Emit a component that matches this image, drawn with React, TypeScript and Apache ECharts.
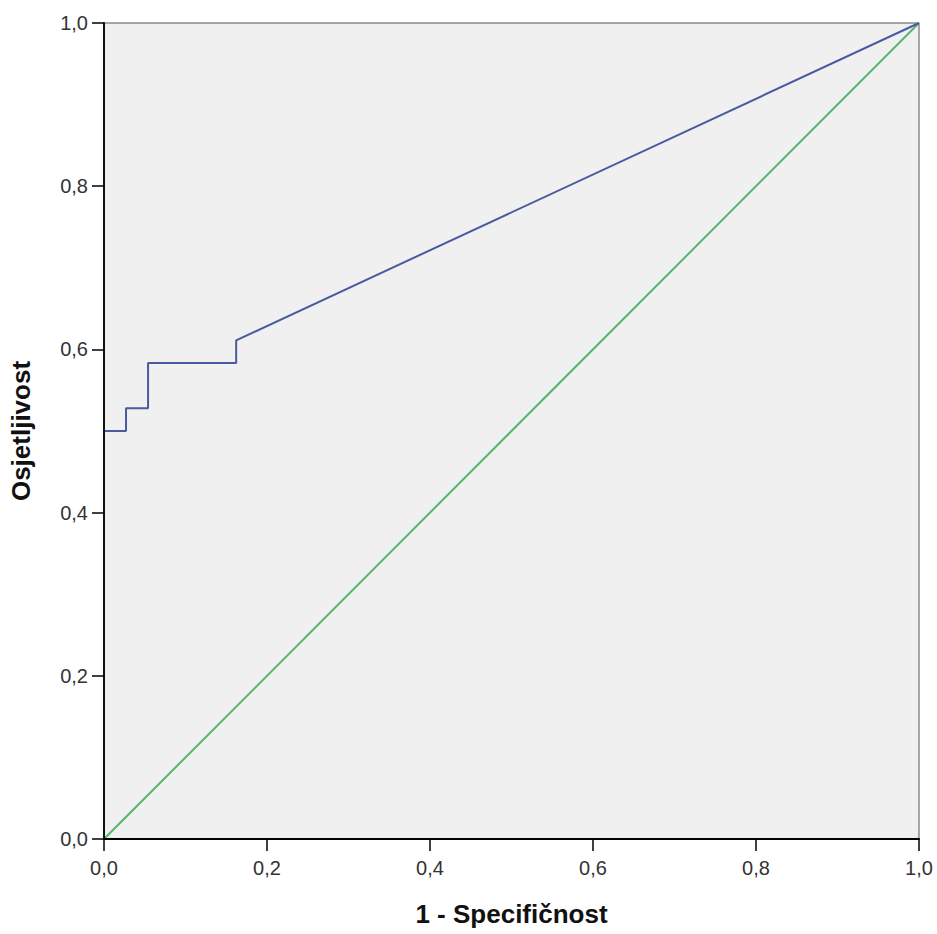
import React, { useEffect, useRef } from "react";
import * as echarts from "echarts";

const rocX = [0, 0, 1 / 37, 1 / 37, 2 / 37, 2 / 37, 6 / 37, 6 / 37, 1];
const rocY = [0, 18 / 36, 18 / 36, 19 / 36, 19 / 36, 21 / 36, 21 / 36, 22 / 36, 1];
const refX = [0, 1];
const refY = [0, 1];
const xName = "1 - Specifičnost";
const yName = "Osjetljivost";

const fmt = (v: number) => v.toFixed(1).replace(".", ",");

export default function App() {
  const ref = useRef<HTMLDivElement>(null);
  useEffect(() => {
    if (!ref.current) return;
    const chart = echarts.init(ref.current, null, { renderer: "svg" });
    const font = "'Liberation Sans', Arial, sans-serif";
    chart.setOption({
      animation: false,
      backgroundColor: "#ffffff",
      grid: { left: 103, top: 23, right: 18, bottom: 95, show: true, backgroundColor: "#f0f0f0", borderColor: "#555555", borderWidth: 1 },
      xAxis: {
        type: "value",
        min: 0,
        max: 1,
        interval: 0.2,
        z: 10,
        name: xName,
        nameLocation: "middle",
        nameGap: 62,
        nameTextStyle: { fontFamily: font, fontSize: 26, fontWeight: "bold", color: "#111" },
        axisLine: { show: true, onZero: false, lineStyle: { color: "#000", width: 2 } },
        axisTick: { show: true, length: 12, lineStyle: { color: "#000", width: 1.5 } },
        axisLabel: { formatter: fmt, fontFamily: font, fontSize: 20, color: "#333", margin: 19 },
        splitLine: { show: false },
      },
      yAxis: {
        type: "value",
        min: 0,
        max: 1,
        interval: 0.2,
        z: 10,
        name: yName,
        nameLocation: "middle",
        nameRotate: 90,
        nameGap: 70,
        nameTextStyle: { fontFamily: font, fontSize: 26, fontWeight: "bold", color: "#111" },
        axisLine: { show: true, onZero: false, lineStyle: { color: "#111", width: 2 } },
        axisTick: { show: true, length: 12, lineStyle: { color: "#000", width: 1.5 } },
        axisLabel: { formatter: fmt, fontFamily: font, fontSize: 20, color: "#333", margin: 16 },
        splitLine: { show: false },
      },
      series: [
        {
          type: "line",
          data: refX.map((x, i) => [x, refY[i]]),
          symbol: "none",
          lineStyle: { color: "#55b56a", width: 2 },
          z: 2,
        },
        {
          type: "line",
          data: rocX.map((x, i) => [x, rocY[i]]),
          symbol: "none",
          lineStyle: { color: "#4a5aa0", width: 2 },
          z: 3,
        },
      ],
    });
    return () => chart.dispose();
  }, []);
  return <div ref={ref} style={{ position: "fixed", left: 0, top: 0, width: 937, height: 934 }} />;
}
